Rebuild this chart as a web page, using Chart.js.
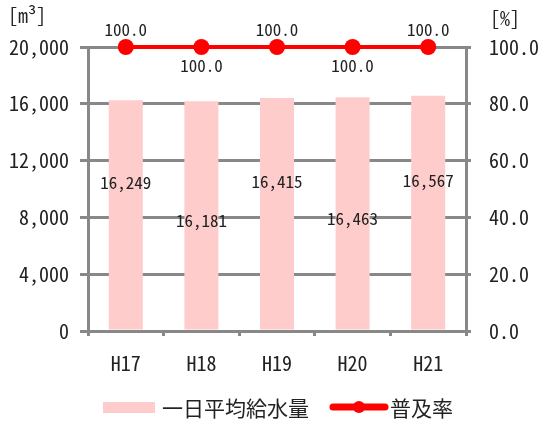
<!DOCTYPE html>
<html><head><meta charset="utf-8">
<script src="https://cdn.jsdelivr.net/npm/chart.js@4/dist/chart.umd.min.js"></script>
<style>html,body{margin:0;padding:0;background:#fff}#wrap{width:555px;height:423px}</style>
</head><body><div id="wrap"><canvas id="c" width="555" height="423"></canvas></div>
<script>
const categories = ['H17','H18','H19','H20','H21'];
const supplyValues = [16249, 16181, 16415, 16463, 16567];
const rateValues = [100.0, 100.0, 100.0, 100.0, 100.0];
const leftTicks = [0, 4000, 8000, 12000, 16000, 20000];
const rightTicks = [0, 20, 40, 60, 80, 100];
const seriesNames = ['一日平均給水量', '普及率'];

const FONT = "'Noto Sans Mono CJK JP','Liberation Mono','Noto Sans CJK JP',monospace";
const JFONT = "'Noto Sans CJK JP',sans-serif";
const fmtInt = v => v.toLocaleString('en-US');

const extras = {
  id: 'extras',
  afterDatasetsDraw(chart) {
    const ctx = chart.ctx;
    ctx.save();
    ctx.fillStyle = '#222';
    ctx.textAlign = 'center';
    ctx.textBaseline = 'middle';
    ctx.font = '17px ' + FONT;
    const barMeta = chart.getDatasetMeta(0);
    barMeta.data.forEach((el, i) => {
      const mid = (el.y + el.base) / 2;
      const y = i % 2 === 0 ? mid - 32 : mid + 5;
      ctx.fillText(fmtInt(supplyValues[i]), el.x, y);
    });
    const lineMeta = chart.getDatasetMeta(1);
    lineMeta.data.forEach((el, i) => {
      const y = i % 2 === 0 ? el.y - 17 : el.y + 19;
      ctx.fillText(rateValues[i].toFixed(1), el.x, y);
    });
    // units
    ctx.font = '20px ' + FONT;
    ctx.textAlign = 'left';
    ctx.fillText('[m³]', 8, 15);
    ctx.fillText('[%]', 490, 18);
    // legend
    const ly = 407;
    ctx.fillStyle = '#FFCCCC';
    ctx.fillRect(103, ly - 5, 52, 11);
    ctx.fillStyle = '#222';
    ctx.font = '21px ' + JFONT;
    ctx.fillText(seriesNames[0], 162, ly + 1);
    ctx.strokeStyle = '#FF0000';
    ctx.lineWidth = 7;
    ctx.lineCap = 'round';
    ctx.beginPath(); ctx.moveTo(333, ly); ctx.lineTo(385, ly); ctx.stroke();
    ctx.fillStyle = '#FF0000';
    ctx.beginPath(); ctx.arc(359, ly, 6, 0, Math.PI * 2); ctx.fill();
    ctx.fillStyle = '#222';
    ctx.fillText(seriesNames[1], 390, ly + 1);
    ctx.restore();
  }
};

new Chart(document.getElementById('c'), {
  data: {
    labels: categories,
    datasets: [
      { type: 'bar', label: seriesNames[0], data: supplyValues, yAxisID: 'y',
        backgroundColor: '#FFCCCC', barPercentage: 0.45, categoryPercentage: 1, order: 2 },
      { type: 'line', label: seriesNames[1], data: rateValues, yAxisID: 'y1',
        borderColor: '#FF0000', backgroundColor: '#FF0000', borderWidth: 4,
        pointRadius: 8, pointHoverRadius: 8, pointBackgroundColor: '#FF0000', pointBorderWidth: 0,
        clip: false, order: 1 }
    ]
  },
  options: {
    responsive: false, animation: false,
    layout: { padding: { top: 47, bottom: 42, left: 0, right: 0 } },
    plugins: { legend: { display: false }, tooltip: { enabled: false } },
    scales: {
      x: {
        offset: true,
        grid: { offset: true, drawOnChartArea: false, color: '#888', lineWidth: 3, tickLength: 5 },
        border: { color: '#888', width: 3 },
        ticks: { font: { family: FONT, size: 20 }, color: '#222', padding: 15 },
        afterFit(s) { s.height = 50; }
      },
      y: {
        position: 'left', min: 0, max: 20000,
        afterBuildTicks(s) { s.ticks = leftTicks.map(v => ({ value: v })); },
        grid: { color: '#888', lineWidth: 3, tickLength: 8 },
        border: { color: '#888', width: 3 },
        ticks: { font: { family: FONT, size: 20 }, color: '#222', padding: 11,
          callback: v => fmtInt(v) },
        afterFit(s) { s.width = 88; }
      },
      y1: {
        position: 'right', min: 0, max: 100,
        afterBuildTicks(s) { s.ticks = rightTicks.map(v => ({ value: v })); },
        grid: { drawOnChartArea: false, color: '#888', lineWidth: 3, tickLength: 5 },
        border: { color: '#888', width: 3 },
        ticks: { font: { family: FONT, size: 20 }, color: '#222', padding: 18,
          callback: v => v.toFixed(1) },
        afterFit(s) { s.width = 89; }
      }
    }
  },
  plugins: [extras]
});
</script>
</body></html>
